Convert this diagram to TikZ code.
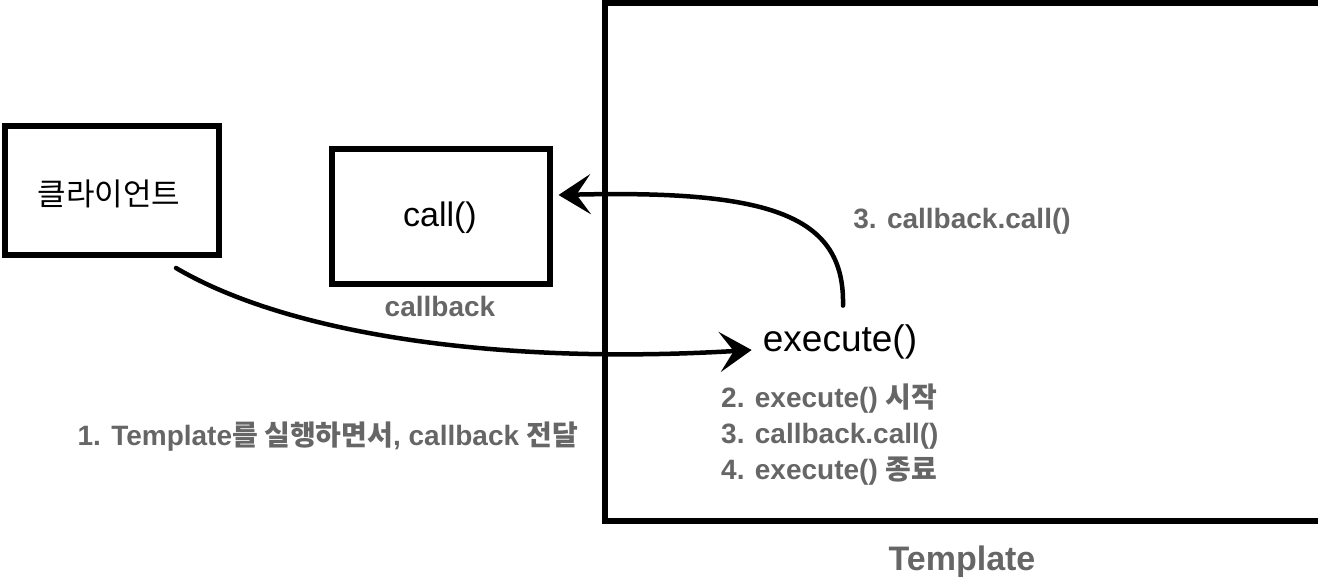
\documentclass[tikz,border=0pt]{standalone}
\usepackage{fontspec}
\setmainfont{Liberation Sans}
\newfontfamily\kr{Noto Sans CJK KR}
\usetikzlibrary{arrows.meta}
\definecolor{lblgray}{RGB}{102,102,102}
\tikzset{
  box/.style={draw=black, line width=6pt, inner sep=0pt},
  lbl/.style={text=lblgray, font=\bfseries\fontsize{28}{36}\selectfont, inner sep=0pt},
  conn/.style={line width=4.5pt, line cap=round, -{Stealth[length=32pt,width=40pt,inset=14pt]}},
}
\begin{document}
\begin{tikzpicture}[x=1pt,y=1pt]
  \useasboundingbox (0,0) rectangle (1318,-580);
  \clip (0,0) rectangle (1318,-580);
  % boxes
  \node[box, minimum width=214pt, minimum height=129pt] (client) at (112,-190.5) {};
  \node[font=\kr\fontsize{31}{36}\selectfont, inner sep=0pt] (clienttxt) at (109,-194) {클라이언트};
  \node[box, minimum width=217.5pt, minimum height=135pt] (cb) at (440.75,-217) {};
  \node[font=\fontsize{34}{40}\selectfont, inner sep=0pt] (calltxt) at (440,-218) {call()};
  \node[lbl] (cblbl) at (440,-306) {callback};
  \node[box, minimum width=725.5pt, minimum height=518pt] (tmpl) at (967.25,-262) {};
  \node[lbl, font=\bfseries\fontsize{34}{40}\selectfont] (tmpllbl) at (962,-562) {Template};
  \node[font=\fontsize{37}{44}\selectfont, inner sep=0pt] (ex) at (840,-342) {execute()};
  % labels
  \node[lbl] (t3) at (962,-221) {3. callback.call()};
  \node[lbl, align=left, anchor=west] (steps) at (721,-435)
    {2. execute() {\kr 시작}\\3. callback.call()\\4. execute() {\kr 종료}};
  \node[lbl] (t1) at (328,-437) {1. Template{\kr 를 실행하면서}, callback {\kr 전달}};
  % connectors
  \draw[conn] ([shift={(64,-10)}]client.south) .. controls (290,-335) and (500,-365) .. ([shift={(-11,-8)}]ex.west);
  \draw[conn] ([shift={(3,19)}]ex.north) .. controls (845,-215) and (770,-190) .. ([shift={(6,22)}]cb.east);
\end{tikzpicture}
\end{document}
